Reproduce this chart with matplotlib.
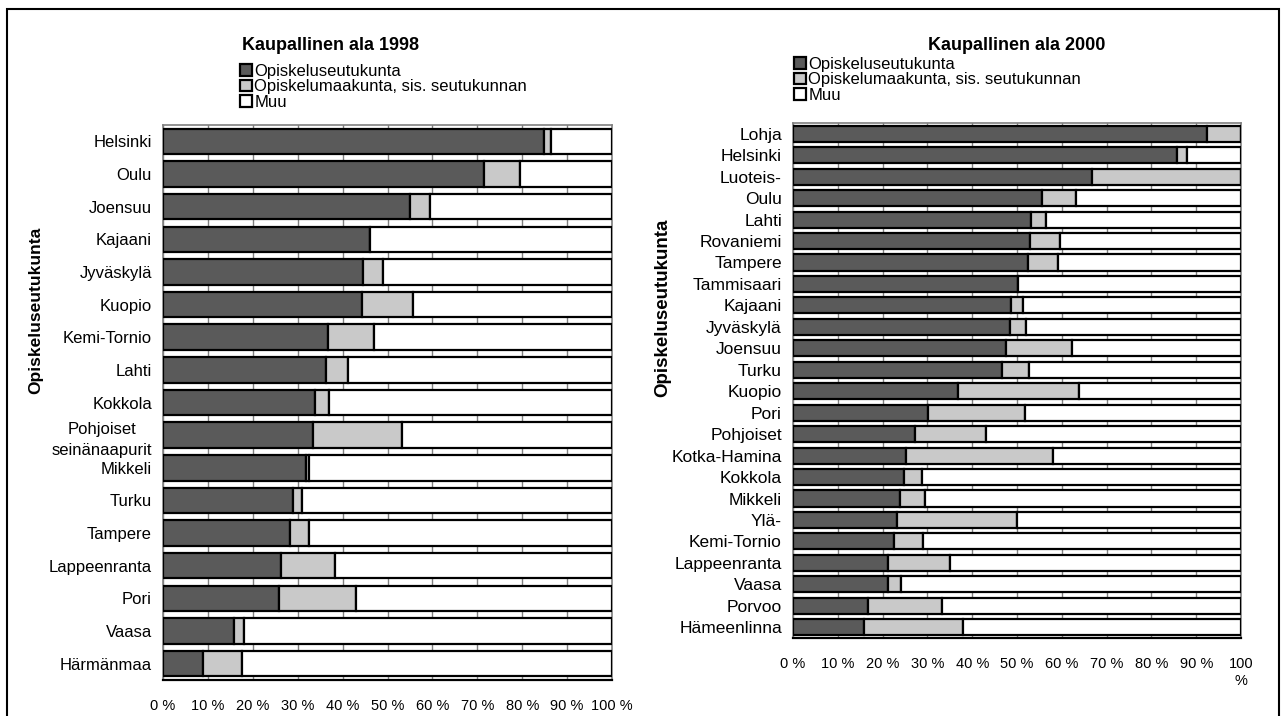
import matplotlib
matplotlib.use("Agg")
import matplotlib.pyplot as plt
from matplotlib.patches import Rectangle
import numpy as np

plt.rcParams['font.family'] = ['Liberation Sans', 'DejaVu Sans']

# ---- Data: Kaupallinen ala 1998 ----
cats_1998 = ["Helsinki", "Oulu", "Joensuu", "Kajaani", "Jyväskylä", "Kuopio",
             "Kemi-Tornio", "Lahti", "Kokkola", "Pohjoiset\nseinänaapurit",
             "Mikkeli", "Turku", "Tampere", "Lappeenranta", "Pori", "Vaasa",
             "Härmänmaa"]
seutu_1998 = [84.9, 71.4, 55.0, 46.0, 44.5, 44.3, 36.7, 36.2, 33.9, 33.4,
              31.8, 29.0, 28.2, 26.2, 25.8, 15.9, 8.8]
maakunta_1998 = [1.5, 8.0, 4.4, 0.0, 4.5, 11.4, 10.4, 4.9, 3.0, 19.8,
                 0.8, 2.0, 4.4, 12.1, 17.1, 2.1, 8.8]

# ---- Data: Kaupallinen ala 2000 ----
cats_2000 = ["Lohja", "Helsinki", "Luoteis-", "Oulu", "Lahti", "Rovaniemi",
             "Tampere", "Tammisaari", "Kajaani", "Jyväskylä", "Joensuu",
             "Turku", "Kuopio", "Pori", "Pohjoiset", "Kotka-Hamina", "Kokkola",
             "Mikkeli", "Ylä-", "Kemi-Tornio", "Lappeenranta", "Vaasa",
             "Porvoo", "Hämeenlinna"]
seutu_2000 = [92.4, 85.7, 66.8, 55.6, 53.2, 53.0, 52.5, 50.2, 48.6, 48.4,
              47.6, 46.7, 36.9, 30.1, 27.2, 25.2, 24.8, 23.9, 23.3, 22.6,
              21.2, 21.1, 16.7, 15.8]
maakunta_2000 = [7.6, 2.3, 33.2, 7.5, 3.2, 6.6, 6.7, 0.0, 2.8, 3.5,
                 14.6, 6.0, 26.9, 21.6, 15.9, 32.8, 3.9, 5.5, 26.8, 6.5,
                 13.9, 2.9, 16.5, 22.1]

series_labels = ["Opiskeluseutukunta", "Opiskelumaakunta, sis. seutukunnan", "Muu"]
xtick_labels_1998 = ["0 %", "10 %", "20 %", "30 %", "40 %", "50 %", "60 %",
                     "70 %", "80 %", "90 %", "100 %"]
xtick_labels_2000 = ["0 %", "10 %", "20 %", "30 %", "40 %", "50 %", "60 %",
                     "70 %", "80 %", "90 %", "100\n%"]

DARK = "#5a5a5a"
LIGHT = "#c9c9c9"
W, H = 1281, 716

fig = plt.figure(figsize=(W / 100, H / 100), dpi=100)


def fx(px):
    return px / W


def fy(py):
    return 1 - py / H


def draw(ax, cats, s1, s2, ticklabels, height, catsize):
    y = np.arange(len(cats))
    s1 = np.array(s1)
    s2 = np.array(s2)
    s3 = 100 - s1 - s2
    kw = dict(edgecolor="black", linewidth=1.6, height=height, zorder=3)
    ax.barh(y, s1, color=DARK, label=series_labels[0], **kw)
    ax.barh(y, s2, left=s1, color=LIGHT, label=series_labels[1], **kw)
    ax.barh(y, s3, left=s1 + s2, color="white", label=series_labels[2], **kw)
    ax.set_xlim(0, 100)
    ax.set_ylim(len(cats) - 0.5, -0.5)
    ax.set_yticks(y)
    ax.set_yticklabels(cats, fontsize=catsize, linespacing=1.5)
    for t in ax.get_yticklabels():
        t.set_multialignment("center")
    ax.set_xticks(np.arange(0, 101, 10))
    ax.set_xticklabels(ticklabels, fontsize=10.5)
    ax.tick_params(axis="both", length=0)
    ax.tick_params(axis="x", pad=14)
    ax.tick_params(axis="y", pad=8)
    ax.xaxis.grid(True, color="#808080", linewidth=1.0, zorder=0)
    ax.set_axisbelow(True)
    for sp in ax.spines.values():
        sp.set_color("#808080")
        sp.set_linewidth(1.2)
    ax.spines["bottom"].set_color("black")
    ax.spines["bottom"].set_linewidth(1.6)


ax1 = fig.add_axes([fx(163), fy(680), fx(612) - fx(163), fy(125) - fy(680)])
draw(ax1, cats_1998, seutu_1998, maakunta_1998, xtick_labels_1998, 0.78, 12)

ax2 = fig.add_axes([fx(793), fy(638), fx(1241) - fx(793), fy(123) - fy(638)])
draw(ax2, cats_2000, seutu_2000, maakunta_2000, xtick_labels_2000, 0.75, 12.5)

# Titles
fig.text(fx(330), fy(46), "Kaupallinen ala 1998", ha="center", va="center",
         fontsize=13, fontweight="bold")
fig.text(fx(1017), fy(45), "Kaupallinen ala 2000", ha="center", va="center",
         fontsize=13, fontweight="bold")

# Axis titles
fig.text(fx(36), fy(310), "Opiskeluseutukunta", rotation=90, ha="center",
         va="center", fontsize=12.5, fontweight="bold")
fig.text(fx(663), fy(308), "Opiskeluseutukunta", rotation=90, ha="center",
         va="center", fontsize=13.5, fontweight="bold")

# Legends
for ax, anchor in ((ax1, (fx(240), fy(64))), (ax2, (fx(794), fy(57)))):
    h, l = ax.get_legend_handles_labels()
    fig.legend(h, l, loc="upper left", bbox_to_anchor=anchor,
               bbox_transform=fig.transFigure, frameon=False, fontsize=12,
               handlelength=0.7, handleheight=0.7, handletextpad=0.15,
               labelspacing=0.02, borderpad=0, borderaxespad=0)

# Outer border
fig.add_artist(Rectangle((fx(7), -0.1), fx(1279) - fx(7), fy(9) + 0.1,
                         transform=fig.transFigure, fill=False,
                         edgecolor="black", linewidth=1.5))

fig.savefig("out.png", dpi=100)
